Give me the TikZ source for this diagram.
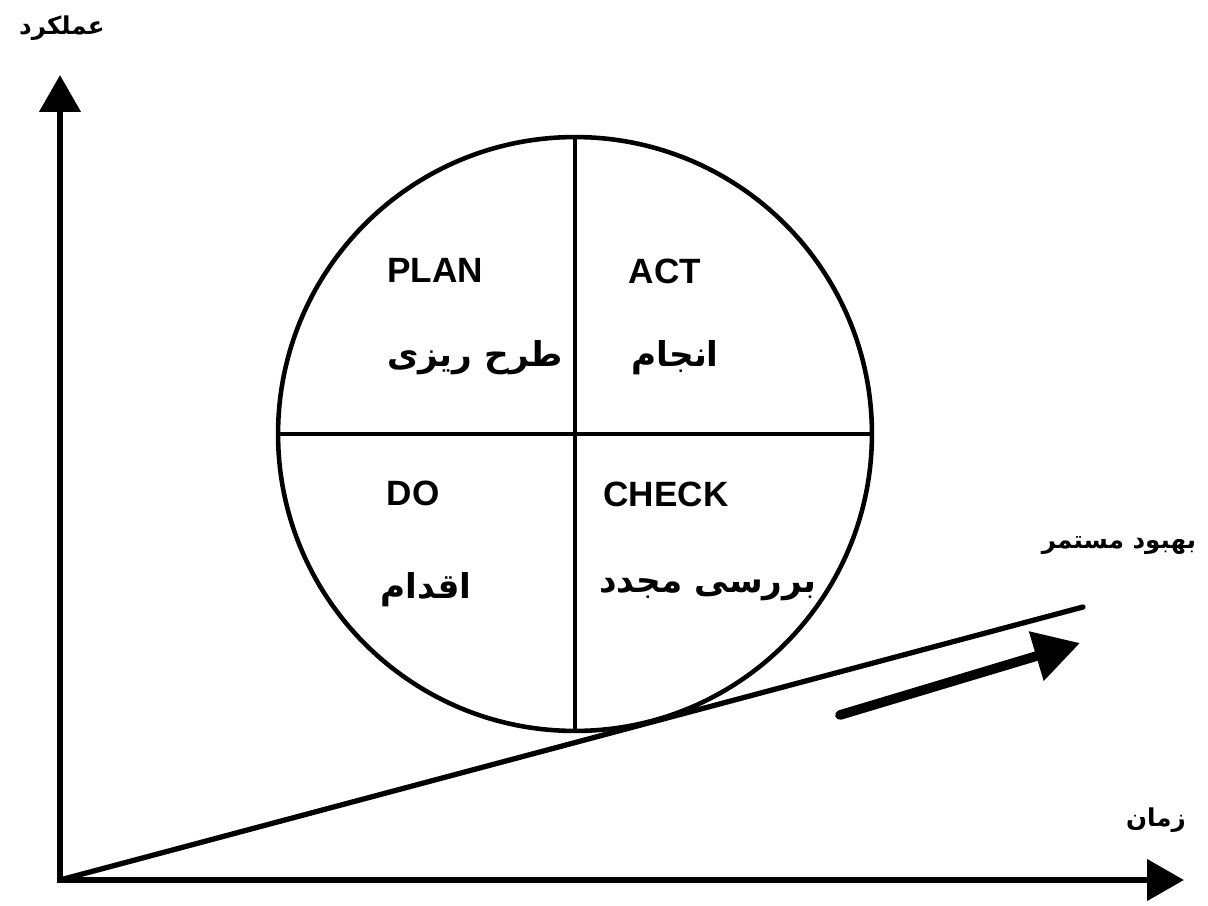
\documentclass[tikz,border=0pt]{standalone}
\usepackage{fontspec}
\setmainfont{Liberation Sans}
\newfontfamily\fa[Script=Arabic]{DejaVu Sans}
\TeXXeTstate=1
\usetikzlibrary{arrows.meta}
\tikzset{
  axis/.style={line width=3.4pt, -{Triangle[length=21pt,width=23pt]}},
  latin/.style={font=\fontsize{20}{24}\selectfont\bfseries, inner sep=0pt},
  farsi/.style={font=\fa\fontsize{19.5}{23}\selectfont\bfseries, inner sep=0pt},
  small/.style={font=\fa\fontsize{14}{17}\selectfont\bfseries, inner sep=0pt},
}
\begin{document}
\begin{tikzpicture}[x=0.02cm,y=-0.02cm]
\useasboundingbox (0,0) rectangle (1208,906);
\coordinate (O) at (60,880);
\coordinate (Ytip) at (60,75);
\coordinate (Xtip) at (1184,880);
\coordinate (E) at (1083,607);
\coordinate (At) at (840,715);
\coordinate (Ah) at (1080,643);
% axes
\draw[axis] ([yshift=-1.7pt]O) -- (Ytip);
\draw[axis] ([xshift=-1.7pt]O) -- (Xtip);
% slope line
\draw[line width=3pt, line cap=round] (O) -- (E);
% circle
\node[circle, draw, line width=2.6pt, minimum size=11.88cm, inner sep=0pt] (C) at (575,434) {};
\draw[line width=2.6pt] (C.north) -- (C.south);
\draw[line width=2.6pt] (C.west) -- (C.east);
% improvement arrow
\draw[line width=5.5pt, line cap=round, -{Triangle[length=26pt,width=28pt]}] (At) -- (Ah);
% labels
\node[latin] (plan) at (435,270) {PLAN};
\node[latin] (act) at (665,271) {ACT};
\node[latin] (do) at (413,493) {DO};
\node[latin] (check) at (666,494) {CHECK};
\node[farsi] (tarh) at (475,358) {\beginR طرح ریزی\endR};
\node[farsi] (anjam) at (675,358) {\beginR انجام\endR};
\node[farsi] (eqdam) at (426,590) {\beginR اقدام\endR};
\node[farsi] (barresi) at (708,590) {\beginR بررسی مجدد\endR};
\node[small] (amal) at (62,28) {\beginR عملکرد\endR};
\node[small] (behbud) at (1119,545) {\beginR بهبود مستمر\endR};
\node[small] (zaman) at (1156,820) {\beginR زمان\endR};
\end{tikzpicture}
\end{document}
